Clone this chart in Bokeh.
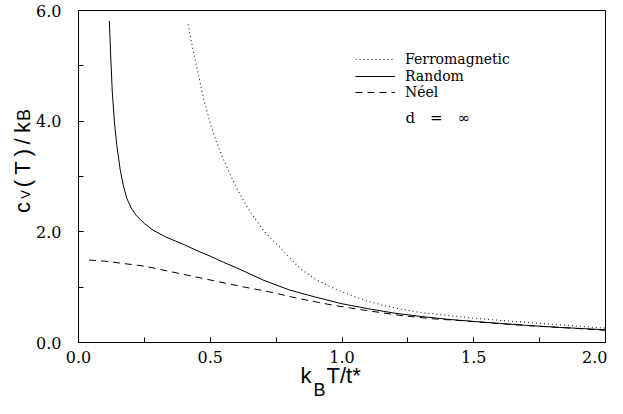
import math
from bokeh.plotting import figure
from bokeh.models import (Range1d, SingleIntervalTicker, PrintfTickFormatter, Legend, LegendItem)
from bokeh.core.properties import value
from bokeh.embed import file_html
from bokeh.resources import INLINE

# ---- data ----
random_T = [0.117, 0.122, 0.128, 0.136, 0.145, 0.158, 0.170, 0.183, 0.20, 0.22, 0.25, 0.283, 0.33, 0.40,
            0.45, 0.50, 0.55, 0.60, 0.70, 0.80, 0.90, 1.00, 1.10, 1.20, 1.30, 1.40, 1.50, 1.60, 1.70,
            1.80, 1.90, 2.00]
random_cv = [5.81, 5.20, 4.55, 4.00, 3.58, 3.13, 2.84, 2.61, 2.43, 2.29, 2.15, 2.03, 1.91, 1.77,
             1.66, 1.56, 1.45, 1.35, 1.13, 0.95, 0.82, 0.70, 0.61, 0.53, 0.47, 0.42, 0.38, 0.345, 0.31,
             0.28, 0.255, 0.23]

ferro_T = [0.416, 0.43, 0.451, 0.475, 0.50, 0.525, 0.551, 0.58, 0.607, 0.64, 0.675, 0.71, 0.754, 0.80,
           0.843, 0.90, 0.968, 1.03, 1.093, 1.15, 1.217, 1.30, 1.40, 1.50, 1.60, 1.70, 1.80, 1.90, 2.00]
ferro_cv = [5.75, 5.40, 4.93, 4.40, 3.96, 3.61, 3.30, 2.99, 2.73, 2.45, 2.20, 1.98, 1.77, 1.54,
            1.33, 1.14, 0.98, 0.86, 0.75, 0.68, 0.61, 0.54, 0.49, 0.44, 0.40, 0.365, 0.33, 0.295, 0.26]

neel_T = [0.04, 0.10, 0.15, 0.20, 0.25, 0.30, 0.37, 0.43, 0.50, 0.56, 0.62, 0.72, 0.84, 0.97, 1.09,
          1.22, 1.34, 1.47, 1.60, 1.72, 1.85, 2.00]
neel_cv = [1.49, 1.47, 1.44, 1.41, 1.38, 1.33, 1.26, 1.20, 1.13, 1.07, 1.01, 0.92, 0.79, 0.67, 0.58,
           0.49, 0.43, 0.39, 0.34, 0.30, 0.265, 0.22]

series_names = ["Ferromagnetic", "Random", "Néel"]
annotation_text = "d\u2003=\u2003\u221e"
xlabel_parts = ["k", "B", "T/t*"]
ylabel_parts = ["c", "V", "(", "T", ")", "/", "k", "B"]
x_ticks_interval = 0.5
y_ticks_interval = 2.0

W, H = 607, 398
ML, MR, MT, MB = 78, 2, 10, 56
FW = W - ML - MR
FH = H - MT - MB
FB = H - MB  # frame bottom in canvas px

p = figure(width=W, height=H, output_backend="svg", toolbar_location=None,
           x_range=Range1d(0, 2), y_range=Range1d(0, 6),
           min_border_left=ML, min_border_right=MR, min_border_top=MT, min_border_bottom=MB)
p.grid.visible = False
p.outline_line_color = "black"
p.outline_line_width = 1
p.background_fill_color = "white"
p.border_fill_color = "white"

serif = "DejaVu Serif"
sans = "Liberation Sans"

for ax in (p.xaxis[0], p.yaxis[0]):
    ax.axis_line_color = "black"
    ax.major_tick_in = 5
    ax.major_tick_out = 0
    ax.minor_tick_in = 5
    ax.minor_tick_out = 0
    ax.major_tick_line_color = "black"
    ax.minor_tick_line_color = "black"
    ax.major_label_text_font = serif
    ax.major_label_text_font_size = "16px"
    ax.major_label_text_color = "black"
    ax.formatter = PrintfTickFormatter(format="%.1f")

p.xaxis[0].ticker = SingleIntervalTicker(interval=x_ticks_interval, num_minor_ticks=2)
p.yaxis[0].ticker = SingleIntervalTicker(interval=y_ticks_interval, num_minor_ticks=2)
p.xaxis[0].major_label_standoff = 8
p.yaxis[0].major_label_standoff = 17

r_f = p.line(ferro_T, ferro_cv, line_color="#222222", line_width=1.1, line_dash="1 3")
r_r = p.line(random_T, random_cv, line_color="black", line_width=1)
r_n = p.line(neel_T, neel_cv, line_color="black", line_width=1, line_dash="7 5")

# one single-row legend per series, so that the row pitch matches the reference
row_centres = [58.0, 74.8, 91.6]
for name, rend, c in zip(series_names, [r_f, r_r, r_n], row_centres):
    lg = Legend(items=[LegendItem(label=name, renderers=[rend])],
                location=(355 - ML, FB - c - 8.8), orientation="vertical",
                glyph_width=40, glyph_height=14, label_height=14, label_standoff=10,
                spacing=0, padding=0, margin=0,
                border_line_alpha=0, background_fill_alpha=0,
                label_text_font=serif, label_text_font_size="14px", label_text_color="black")
    p.add_layout(lg)


def dx(px):
    return (px - ML) / (FW / 2.0)


def dy(py):
    return (FB - py) / (FH / 6.0)


p.text(x=[dx(405)], y=[dy(117)], text=[annotation_text], text_font=value(serif),
       text_font_size=value("15px"), text_baseline="middle", text_align="left", text_color="black")

# x axis label: k_B T/t*
xl_pos = [(300, 375, "22px"), (313, 389, "18px"), (326, 375, "22px")]
p.text(x=[dx(a) for a, b, c in xl_pos], y=[dy(b) for a, b, c in xl_pos], text=xlabel_parts,
       text_font=value(sans), text_font_size=[c for a, b, c in xl_pos],
       text_baseline="alphabetic", text_align="left", text_color="black", level="overlay")

# y axis label: c_V(T)/k_B, rotated, one character at a time
yl_pos = [(22, 207, "22px"), (25, 194, "13px"), (22, 183, "22px"), (22, 167.5, "22px"),
          (22, 152, "22px"), (22, 141, "22px"), (22, 127, "22px"), (23, 114.5, "18px")]
p.text(x=[dx(a) for a, b, c in yl_pos], y=[dy(b) for a, b, c in yl_pos], text=ylabel_parts,
       text_font=value(sans), text_font_size=[c for a, b, c in yl_pos],
       text_baseline="alphabetic", text_align="center", angle=math.pi / 2,
       text_color="black", level="overlay")

open("out.html", "w").write(file_html(p, INLINE))
